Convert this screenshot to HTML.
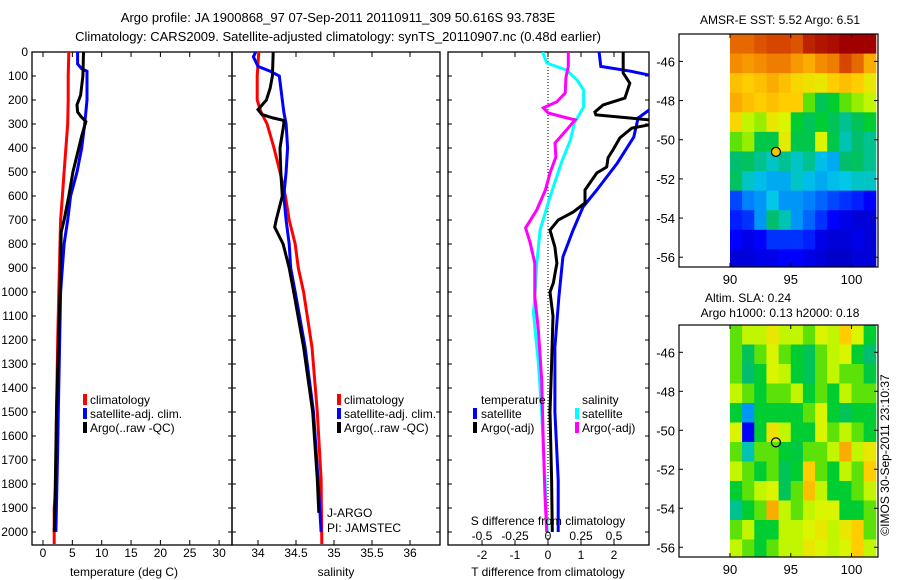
<!DOCTYPE html>
<html><head><meta charset="utf-8">
<style>
html,body{margin:0;padding:0;background:#fff;}
svg{display:block;font-family:"Liberation Sans",sans-serif;}
</style></head>
<body>
<svg id="fig" width="900" height="580" viewBox="0 0 900 580" xmlns="http://www.w3.org/2000/svg">
<rect x="0" y="0" width="900" height="580" fill="#fff"/>
<text x="338" y="22" font-size="13" text-anchor="middle">Argo profile: JA 1900868_97 07-Sep-2011 20110911_309 50.616S 93.783E</text>
<text x="338" y="41" font-size="13" text-anchor="middle">Climatology: CARS2009. Satellite-adjusted climatology: synTS_20110907.nc (0.48d earlier)</text>
<text x="780" y="24" font-size="12" text-anchor="middle">AMSR-E SST: 5.52 Argo: 6.51</text>
<text x="748" y="302" font-size="12" text-anchor="middle">Altim. SLA: 0.24</text>
<text x="780" y="317" font-size="12" text-anchor="middle">Argo h1000: 0.13 h2000: 0.18</text>
<text transform="translate(889,455) rotate(-90)" font-size="12" text-anchor="middle">©IMOS 30-Sep-2011 23:10:37</text>
<g id="plots"></g>
</svg>
<script>
// ---------- data ----------
const tClimDepth=[0,100,200,300,400,500,600,700,800,1000,1200,1500,1800,1900,2050];
const tClimVal=[4.4,4.3,4.3,4.2,3.9,3.6,3.3,3.0,2.9,2.7,2.5,2.3,2.2,1.9,1.9];
const tSatDepth=[0,50,70,80,200,300,400,500,600,700,800,1000,1500,1650,2000];
const tSatVal=[5.9,5.9,6.6,7.5,7.5,7.1,6.6,5.8,4.7,4.2,3.6,3.0,2.6,2.5,2.2];
const tArgoDepth=[0,100,180,220,250,270,290,350,400,500,600,700,750,1000,1500,1950,2000];
const tArgoVal=[6.9,6.8,6.4,5.8,5.9,6.5,7.3,6.6,6.1,5.1,4.4,3.6,3.1,2.9,2.3,2.0,1.9];
const sClimDepth=[0,100,200,250,300,400,500,600,700,800,900,1000,1230,1500,1780,2050];
const sClimVal=[34.01,33.99,33.99,34.04,34.12,34.21,34.29,34.36,34.41,34.49,34.53,34.6,34.71,34.78,34.83,34.84];
const sSatDepth=[0,20,60,80,100,150,250,300,400,500,600,700,800,900,1000,1230,1500,1780,2000];
const sSatVal=[33.97,33.94,34.0,34.16,34.28,34.3,34.34,34.37,34.39,34.37,34.34,34.37,34.41,34.43,34.49,34.62,34.73,34.79,34.83];
const sArgoDepth=[0,100,150,200,240,260,275,285,300,400,500,600,700,730,800,900,1000,1230,1500,1780,1920];
const sArgoVal=[34.2,34.19,34.16,34.11,34.0,34.05,34.2,34.34,34.34,34.29,34.3,34.32,34.24,34.22,34.33,34.41,34.47,34.6,34.72,34.78,34.8];
const dTSatDepth=[0,60,80,96,110,230,242,275,354,463,575,646,742,854,1020,1229,1500,1783,2000];
const dTSatVal=[1.55,1.6,2.5,3.06,3.6,3.6,3.06,2.73,2.6,2.1,1.48,1.06,0.76,0.45,0.33,0.21,0.21,0.31,0.31];
const dTArgoDepth=[0,88,130,192,221,250,262,275,290,300,317,358,408,440,479,504,575,629,667,700,742,813,880,963,1000,1100,1300,1500,1783,2000];
const dTArgoVal=[2.28,2.28,2.48,2.33,1.67,1.42,1.45,2.48,3.6,3.2,2.54,2.18,1.97,1.82,1.78,1.48,1.12,1.12,0.76,0.31,0.06,0.21,0.27,0.16,0.06,0.15,0.11,0.06,0.11,0.13];
const dSSatDepth=[0,46,75,117,158,229,296,367,463,604,742,880,1020,1089,1297,1505,1783,2000];
const dSSatVal=[-0.04,-0.01,0.14,0.22,0.27,0.27,0.2,0.17,0.10,0.015,-0.06,-0.085,-0.1,-0.11,-0.073,-0.048,-0.023,-0.005];
const dSArgoDepth=[0,60,104,171,208,233,254,271,283,325,379,437,504,575,658,733,796,880,1020,1160,1366,1644,1850,2000];
const dSArgoVal=[0.154,0.154,0.136,0.13,0.066,-0.035,0.002,0.116,0.205,0.14,0.053,0.06,0.015,-0.02,-0.085,-0.17,-0.135,-0.1,-0.1,-0.073,-0.048,-0.035,-0.023,-0.01];
const depthTicks=[0,100,200,300,400,500,600,700,800,900,1000,1100,1200,1300,1400,1500,1600,1700,1800,1900,2000];
const tempTicks=[0,5,10,15,20,25,30];
const salTicks=[34,34.5,35,35.5,36];
const salTickLabels=["34","34.5","35","35.5","36"];
const dTTicks=[-2,-1,0,1,2];
const dSTicks=[-0.5,-0.25,0,0.25,0.5];
const dSTickLabels=["-0.5","-0.25","0","0.25","0.5"];
const mapLonTicks=[90,95,100];
const mapLatTicks=[-46,-48,-50,-52,-54,-56];
const gridLon0=90, gridLat0=-44.6;
const sstGrid=[
[0.85,0.85,0.88,0.9,0.9,0.88,0.95,0.97,0.98,1,1,1],
[0.8,0.78,0.8,0.82,0.82,0.78,0.75,0.8,0.82,0.9,0.85,0.75],
[0.72,0.7,0.72,0.75,0.72,0.68,0.66,0.65,0.7,0.72,0.7,0.65],
[0.75,0.72,0.7,0.72,0.7,0.7,0.55,0.45,0.5,0.55,0.58,0.6],
[0.68,0.6,0.58,0.65,0.62,0.5,0.45,0.5,0.45,0.4,0.45,0.5],
[0.55,0.58,0.47,0.47,0.64,0.47,0.47,0.62,0.47,0.38,0.42,0.4],
[0.42,0.44,0.4,0.37,0.4,0.37,0.4,0.34,0.32,0.42,0.44,0.4],
[0.44,0.37,0.34,0.32,0.32,0.37,0.34,0.32,0.34,0.35,0.37,0.37],
[0.22,0.28,0.3,0.35,0.3,0.3,0.28,0.25,0.22,0.2,0.18,0.15],
[0.18,0.2,0.3,0.42,0.38,0.3,0.25,0.2,0.15,0.12,0.1,0.1],
[0.15,0.12,0.15,0.2,0.2,0.2,0.18,0.12,0.1,0.1,0.12,0.1],
[0.1,0.1,0.12,0.12,0.15,0.15,0.12,0.1,0.08,0.08,0.1,0.1]];
const slaGrid=[
[0.55,0.6,0.6,0.65,0.6,0.6,0.55,0.62,0.6,0.7,0.62,0.5],
[0.55,0.45,0.55,0.62,0.55,0.5,0.45,0.55,0.6,0.62,0.5,0.42],
[0.55,0.42,0.5,0.62,0.6,0.5,0.45,0.55,0.6,0.55,0.55,0.48],
[0.6,0.55,0.5,0.55,0.55,0.6,0.5,0.55,0.5,0.6,0.55,0.55],
[0.5,0.3,0.5,0.5,0.5,0.5,0.55,0.62,0.5,0.45,0.5,0.5],
[0.62,0.15,0.5,0.66,0.6,0.5,0.5,0.62,0.55,0.6,0.55,0.5],
[0.55,0.38,0.55,0.55,0.5,0.48,0.55,0.55,0.6,0.75,0.6,0.65],
[0.6,0.55,0.5,0.55,0.45,0.5,0.7,0.55,0.5,0.6,0.55,0.7],
[0.5,0.55,0.6,0.62,0.45,0.55,0.72,0.6,0.5,0.5,0.55,0.6],
[0.4,0.5,0.55,0.75,0.6,0.55,0.6,0.62,0.62,0.5,0.5,0.55],
[0.55,0.6,0.5,0.5,0.6,0.6,0.62,0.65,0.6,0.65,0.7,0.55],
[0.6,0.55,0.5,0.55,0.6,0.6,0.65,0.62,0.6,0.62,0.7,0.6]];
const argoLon=93.78, argoLat=-50.62;

// ---------- scales ----------
const NS="http://www.w3.org/2000/svg";
const root=document.getElementById('plots');
function mk(tag,attrs,parent){const e=document.createElementNS(NS,tag);for(const k in attrs)e.setAttribute(k,attrs[k]);(parent||root).appendChild(e);return e;}
const TOP=52,BOT=545;
const yD=d=>TOP+d*0.24;
const xT=t=>43+t*5.87;
const xS=s=>258+(s-34)*76;
const xdT=t=>548+t*33;
const xdS=s=>548+s*132;

function box(x0,x1,name){
  const r=mk('rect',{x:x0,y:TOP,width:x1-x0,height:BOT-TOP,fill:'none',stroke:'#000','stroke-width':1.3});
  
  
  depthTicks.forEach(d=>{mk('line',{x1:x0,x2:x0+4,y1:yD(d),y2:yD(d),stroke:'#000'});mk('line',{x1:x1,x2:x1-4,y1:yD(d),y2:yD(d),stroke:'#000'});});
}
function xticks(vals,labels,fx,ly,name){
  vals.forEach((v,i)=>{
    const x=fx(v);
    mk('line',{x1:x,x2:x,y1:TOP,y2:TOP+5,stroke:'#000'});
    mk('line',{x1:x,x2:x,y1:BOT,y2:BOT-5,stroke:'#000'});
    if(ly){const t=mk('text',{x:x,y:ly,'font-size':12,'text-anchor':'middle'});t.textContent=labels[i];
      
      }
  });
}
function line(ds,vs,fx,color,name,clip){
  const pts=ds.map((d,i)=>fx(vs[i]).toFixed(1)+','+yD(d).toFixed(1)).join(' ');
  const p=mk('polyline',{points:pts,fill:'none',stroke:color,'stroke-width':3,'stroke-linejoin':'miter'});
  if(clip)p.setAttribute('clip-path','url(#'+clip+')');
  
  
}
function txt(x,y,s,name,anchor,size){const t=mk('text',{x:x,y:y,'font-size':size||12,'text-anchor':anchor||'start'});t.textContent=s;
  
  return t;}
function legMark(x,y,c){mk('rect',{x:x,y:y-10,width:4,height:11,fill:c});}

const defs=mk('defs',{});
const cp=mk('clipPath',{id:'clipD'},defs);mk('rect',{x:448,y:TOP,width:201,height:BOT-TOP},cp);
const cp1=mk('clipPath',{id:'clipT'},defs);mk('rect',{x:32,y:TOP,width:200,height:BOT-TOP},cp1);
const cp2=mk('clipPath',{id:'clipS'},defs);mk('rect',{x:232,y:TOP,width:208,height:BOT-TOP},cp2);

depthTicks.forEach(d=>{txt(28,yD(d)+4,String(d),'depth-tick-label','end');});

box(32,232,'temperature-panel');
xticks(tempTicks,tempTicks.map(String),xT,557,'temperature-tick-label');
line(tClimDepth,tClimVal,xT,'#f00','temp-climatology-line','clipT');
line(tSatDepth,tSatVal,xT,'#00f','temp-satellite-line','clipT');
line(tArgoDepth,tArgoVal,xT,'#000','temp-argo-line','clipT');
txt(124,576,'temperature (deg C)','temperature-axis-title','middle');
legMark(83,404,'#f00');txt(90,404,'climatology','legend-climatology');
legMark(83,418,'#00f');txt(90,418,'satellite-adj. clim.','legend-satellite-adj');
legMark(83,432,'#000');txt(90,432,'Argo(..raw -QC)','legend-argo-raw');

box(232,440,'salinity-panel');
xticks(salTicks,salTickLabels,xS,557,'salinity-tick-label');
line(sClimDepth,sClimVal,xS,'#f00','sal-climatology-line','clipS');
line(sSatDepth,sSatVal,xS,'#00f','sal-satellite-line','clipS');
line(sArgoDepth,sArgoVal,xS,'#000','sal-argo-line','clipS');
txt(336,576,'salinity','salinity-axis-title','middle');
legMark(337,404,'#f00');txt(344,404,'climatology','legend2-climatology');
legMark(337,418,'#00f');txt(344,418,'satellite-adj. clim.','legend2-satellite-adj');
legMark(337,432,'#000');txt(344,432,'Argo(..raw -QC)','legend2-argo-raw');
txt(327,517,'J-ARGO','project-label');
txt(327,532,'PI: JAMSTEC','pi-label');

box(448,649,'difference-panel');
xticks(dTTicks,dTTicks.map(String),xdT,559,'tdiff-tick-label');
mk('line',{x1:548,x2:548,y1:TOP,y2:BOT,stroke:'#000','stroke-dasharray':'1,2'});
line(dSSatDepth,dSSatVal,xdS,'#0ff','sdiff-satellite-line','clipD');
line(dSArgoDepth,dSArgoVal,xdS,'#f0f','sdiff-argo-line','clipD');
line(dTSatDepth,dTSatVal,xdT,'#00f','tdiff-satellite-line','clipD');
line(dTArgoDepth,dTArgoVal,xdT,'#000','tdiff-argo-line','clipD');
dSTicks.forEach((v,i)=>{txt(xdS(v),540,dSTickLabels[i],'sdiff-tick-label','middle');});
txt(548,525,'S difference from climatology','sdiff-axis-title','middle');
txt(548,576,'T difference from climatology','tdiff-axis-title','middle');
txt(481,404,'temperature','legend3-temperature-heading');
legMark(473,418,'#00f');txt(481,418,'satellite','legend3-temp-satellite');
legMark(473,432,'#000');txt(481,432,'Argo(-adj)','legend3-temp-argo');
txt(582,404,'salinity','legend3-salinity-heading');
legMark(575,418,'#0ff');txt(582,418,'satellite','legend3-sal-satellite');
legMark(575,432,'#f0f');txt(582,432,'Argo(-adj)','legend3-sal-argo');

function jet(v){
  v=Math.max(0,Math.min(1,v));
  const stops=[[0,[0,0,140]],[0.15,[0,0,255]],[0.28,[0,130,255]],[0.35,[0,200,230]],[0.42,[0,190,110]],[0.5,[0,205,50]],[0.56,[110,230,0]],[0.61,[215,250,0]],[0.7,[255,205,0]],[0.8,[245,140,0]],[0.9,[215,70,0]],[1,[160,0,0]]];
  for(let i=1;i<stops.length;i++){if(v<=stops[i][0]){const a=stops[i-1],b=stops[i];const f=(v-a[0])/(b[0]-a[0]);
    return 'rgb('+a[1].map((c,k)=>Math.round(c+(b[1][k]-c)*f)).join(',')+')';}}
  return 'rgb(160,0,0)';
}
function drawMap(y0,y1,grid,name,fillMarker){
  const x0=679,x1=878;
  const lonX=l=>730+(l-90)*12.15;
  const latY=l=>y0+(-44.6-l)*((y1-y0)/11.9);
  const g=mk('g',{});
  
  
  const cl=mk('clipPath',{id:'clip'+name},defs);mk('rect',{x:x0,y:y0,width:x1-x0,height:y1-y0},cl);
  const cg=mk('g',{'clip-path':'url(#clip'+name+')'},g);
  grid.forEach((row,r)=>row.forEach((v,c)=>{
    const xa=lonX(gridLon0+c),xb=lonX(gridLon0+c+1),ya=latY(gridLat0-r),yb=latY(gridLat0-r-1);
    const cell=mk('rect',{x:xa,y:ya,width:xb-xa+0.5,height:yb-ya+0.5,fill:jet(v)},cg);
    
    
  }));
  mk('rect',{x:x0,y:y0,width:x1-x0,height:y1-y0,fill:'none',stroke:'#000','stroke-width':1.2},g);
  mapLonTicks.forEach(l=>{const x=lonX(l);mk('line',{x1:x,x2:x,y1:y0,y2:y0+4,stroke:'#000'},g);mk('line',{x1:x,x2:x,y1:y1,y2:y1-4,stroke:'#000'},g);
    txt(x,y1+17,String(l),'map-lon-label','middle',13);});
  mapLatTicks.forEach(l=>{const y=latY(l);mk('line',{x1:x0,x2:x0+4,y1:y,y2:y,stroke:'#000'},g);mk('line',{x1:x1,x2:x1-4,y1:y,y2:y,stroke:'#000'},g);
    txt(675,y+5,String(l),'map-lat-label','end',13);});
  const m=mk('circle',{cx:lonX(argoLon),cy:latY(argoLat),r:4.5,fill:fillMarker,stroke:'#000','stroke-width':1.2},g);
  
  
}
drawMap(34,267,sstGrid,'sst-map','#f5c400');
drawMap(325,557,slaGrid,'sla-map','none');
</script>
</body></html>
